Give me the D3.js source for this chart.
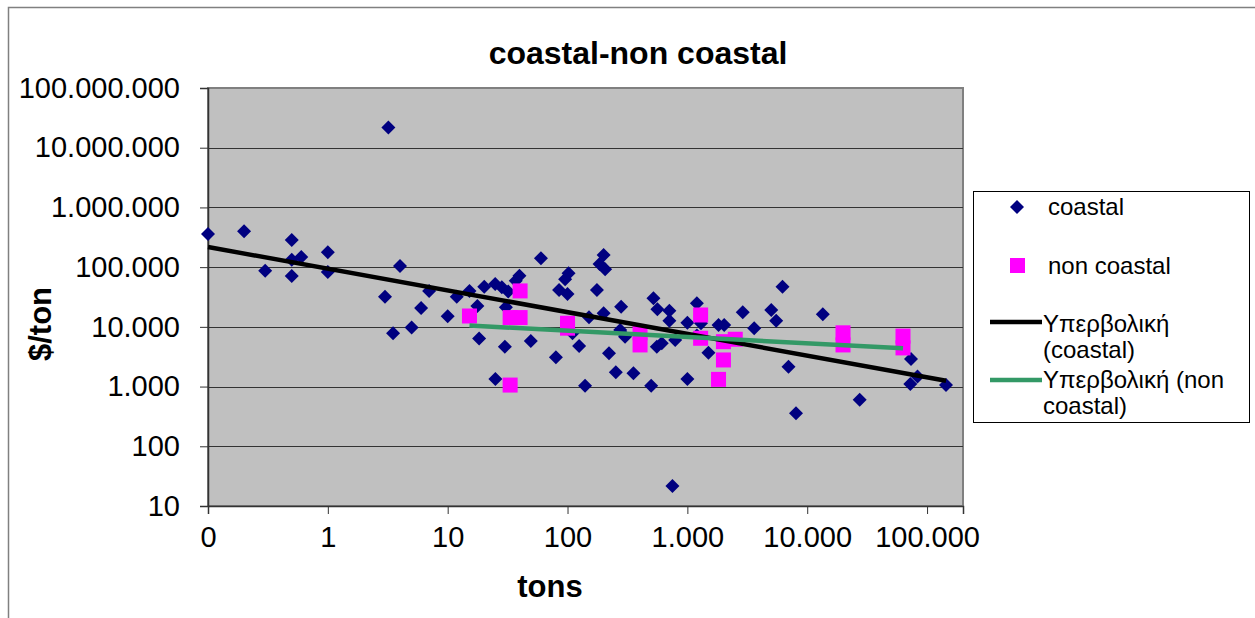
<!DOCTYPE html>
<html>
<head>
<meta charset="utf-8">
<script src="https://cdn.jsdelivr.net/npm/d3@7"></script>
<style>
  html, body { margin: 0; padding: 0; background: #fff; }
  svg { display: block; font-family: "Liberation Sans", Arial, sans-serif; }
</style>
</head>
<body>
<div id="chart"></div>
<script>
// coastal series (tons, $/ton)
const coastalTons = [0.1, 0.2, 0.3, 0.5, 0.5, 0.5, 0.6, 1.0, 1.0, 3.2, 3.0, 4.0, 7.0, 11.9, 3.5, 5.0, 6.0, 10,
  15.2, 17.7, 18.3, 20.2, 24.9, 28.3, 30.6, 32, 39.7, 37, 30, 49.4, 60, 102, 95.5, 85, 100, 200, 185, 206, 176,
  200, 280, 151, 275, 302, 110, 125, 80, 222, 253, 355, 140, 499, 1000, 25, 521, 562, 708, 708, 1000, 556, 611,
  791, 1200, 1300, 1820, 2030, 2900, 3610, 5010, 5510, 6220, 13500, 1500, 6980, 73500, 83200, 72500, 144000,
  27400, 8060, 751, 1200];
const coastalPrice = [360000, 400000, 87000, 286000, 133000, 71000, 148000, 178000, 83000, 21700000, 32000, 105000,
  40000, 32000, 7800, 9800, 20700, 15000, 40000, 22400, 6400, 47000, 52000, 46000, 21300, 39000, 72000, 59000,
  4660, 5800, 141000, 79000, 62600, 41500, 35500, 160000, 113000, 92000, 41500, 16900, 21800, 14500, 8870, 6860,
  7800, 4790, 3090, 3610, 1740, 1670, 1035, 1035, 1340, 1340, 30000, 19700, 18600, 12700, 11700, 4660, 5300,
  6000, 24800, 11500, 10700, 10700, 17500, 9490, 19200, 12600, 47000, 16300, 3700, 2150, 2900, 1470, 1100, 1060,
  600, 357, 21.6, 7200];

// non coastal series
const nonCoastalTons = [15.2, 40.2, 33.2, 40.2, 100, 100, 33.2, 403, 403, 1290, 1290, 2000, 2510, 2000, 1820,
  19900, 19900, 63000, 63000];
const nonCoastalPrice = [15200, 40000, 14300, 14300, 11500, 9500, 1060, 7950, 4980, 15800, 6440, 5650, 6200,
  2790, 1320, 7950, 4980, 7000, 4440];

// power trendlines y = a * x^b (Excel "Υπερβολική")
const trendCoastal = { a: 94200, b: -0.364 };
const trendNonCoastal = { a: 13970, b: -0.105 };

const xTicks = [0.1, 1, 10, 100, 1000, 10000, 100000];
const xTickLabels = ["0", "1", "10", "100", "1.000", "10.000", "100.000"];
const yTicks = [10, 100, 1000, 10000, 100000, 1000000, 10000000, 100000000];
const yTickLabels = ["10", "100", "1.000", "10.000", "100.000", "1.000.000", "10.000.000", "100.000.000"];

const W = 1255, H = 618;
const plot = { left: 208, right: 963, top: 88, bottom: 506 };

const svg = d3.select("#chart").append("svg")
  .attr("width", W).attr("height", H);

// chart frame
svg.append("rect")
  .attr("x", 8.5).attr("y", 7.5)
  .attr("width", W + 20).attr("height", H + 20)
  .attr("fill", "#fff").attr("stroke", "#808080").attr("stroke-width", 1.5);

const x = d3.scaleLog().domain([0.1, Math.pow(10, 5.3)]).range([plot.left, plot.right]);
const y = d3.scaleLog().domain([10, 1e8]).range([plot.bottom, plot.top]);

// plot area
svg.append("rect")
  .attr("x", plot.left).attr("y", plot.top)
  .attr("width", plot.right - plot.left).attr("height", plot.bottom - plot.top)
  .attr("fill", "#c0c0c0").attr("stroke", "#808080").attr("stroke-width", 2);

// gridlines
svg.append("g")
  .selectAll("line")
  .data(yTicks.slice(1, -1))
  .join("line")
  .attr("x1", plot.left).attr("x2", plot.right)
  .attr("y1", d => Math.round(y(d)) + 0.5).attr("y2", d => Math.round(y(d)) + 0.5)
  .attr("stroke", "#333").attr("stroke-width", 1.2);

// axes
const yAxis = svg.append("g")
  .attr("transform", `translate(${plot.left},0)`)
  .call(d3.axisLeft(y).tickValues(yTicks).tickFormat((d, i) => yTickLabels[i]).tickSize(8).tickPadding(20));
const xAxis = svg.append("g")
  .attr("transform", `translate(0,${plot.bottom})`)
  .call(d3.axisBottom(x).tickValues(xTicks).tickFormat((d, i) => xTickLabels[i]).tickSize(8).tickPadding(12));

[yAxis, xAxis].forEach(g => {
  g.select(".domain").attr("stroke", "#333").attr("stroke-width", 1.5);
  g.selectAll(".tick line").attr("stroke", "#333");
  g.selectAll("text")
    .attr("font-family", "'Liberation Sans', Arial, sans-serif")
    .attr("font-size", 29).attr("fill", "#000");
});
xAxis.selectAll("text").attr("dy", "0.72em");

// points
const coastal = coastalTons.map((t, i) => ({ t, p: coastalPrice[i] }));
const nonCoastal = nonCoastalTons.map((t, i) => ({ t, p: nonCoastalPrice[i] }));

const diamond = "M0,-7L7,0L0,7L-7,0Z";

svg.append("g")
  .selectAll("path")
  .data(coastal)
  .join("path")
  .attr("d", diamond)
  .attr("transform", d => `translate(${x(d.t)},${y(d.p)})`)
  .attr("fill", "#000080");

svg.append("g")
  .selectAll("rect")
  .data(nonCoastal)
  .join("rect")
  .attr("x", d => x(d.t) - 7.5).attr("y", d => y(d.p) - 7.5)
  .attr("width", 15).attr("height", 15)
  .attr("fill", "#ff00ff");

// trendlines across each series' x range
const trend = (data, c) => {
  const ext = d3.extent(data, d => d.t);
  return ext.map(t => [x(t), y(c.a * Math.pow(t, c.b))]);
};
const line = d3.line();

svg.append("path")
  .attr("d", line(trend(coastal, trendCoastal)))
  .attr("stroke", "#000").attr("stroke-width", 4.5).attr("fill", "none");
svg.append("path")
  .attr("d", line(trend(nonCoastal, trendNonCoastal)))
  .attr("stroke", "#339966").attr("stroke-width", 4.5).attr("fill", "none");

// titles
svg.append("text")
  .attr("x", 638).attr("y", 64)
  .attr("text-anchor", "middle")
  .attr("font-size", 32).attr("font-weight", "bold")
  .text("coastal-non coastal");

svg.append("text")
  .attr("x", 550).attr("y", 597)
  .attr("text-anchor", "middle")
  .attr("font-size", 31).attr("font-weight", "bold")
  .text("tons");

svg.append("text")
  .attr("transform", "translate(51,324) rotate(-90)")
  .attr("text-anchor", "middle")
  .attr("font-size", 31).attr("font-weight", "bold")
  .text("$/ton");

// legend
const legend = svg.append("g");
legend.append("rect")
  .attr("x", 973.5).attr("y", 191.5)
  .attr("width", 276).attr("height", 231)
  .attr("fill", "#fff").attr("stroke", "#000").attr("stroke-width", 1);

legend.append("path").attr("d", diamond).attr("transform", "translate(1017,207)").attr("fill", "#000080");
legend.append("rect").attr("x", 1010).attr("y", 258).attr("width", 15).attr("height", 15).attr("fill", "#ff00ff");
legend.append("line").attr("x1", 990).attr("x2", 1042).attr("y1", 322).attr("y2", 322)
  .attr("stroke", "#000").attr("stroke-width", 4.5);
legend.append("line").attr("x1", 990).attr("x2", 1042).attr("y1", 380).attr("y2", 380)
  .attr("stroke", "#339966").attr("stroke-width", 4.5);

const legendTexts = [
  { x: 1048, y: 215, s: "coastal" },
  { x: 1048, y: 274, s: "non coastal" },
  { x: 1043, y: 332, s: "Υπερβολική" },
  { x: 1043, y: 358, s: "(coastal)" },
  { x: 1043, y: 388, s: "Υπερβολική (non" },
  { x: 1043, y: 414, s: "coastal)" }
];
legend.selectAll("text.lg")
  .data(legendTexts)
  .join("text")
  .attr("class", "lg")
  .attr("x", d => d.x).attr("y", d => d.y)
  .attr("font-size", 24)
  .text(d => d.s);
</script>
</body>
</html>
